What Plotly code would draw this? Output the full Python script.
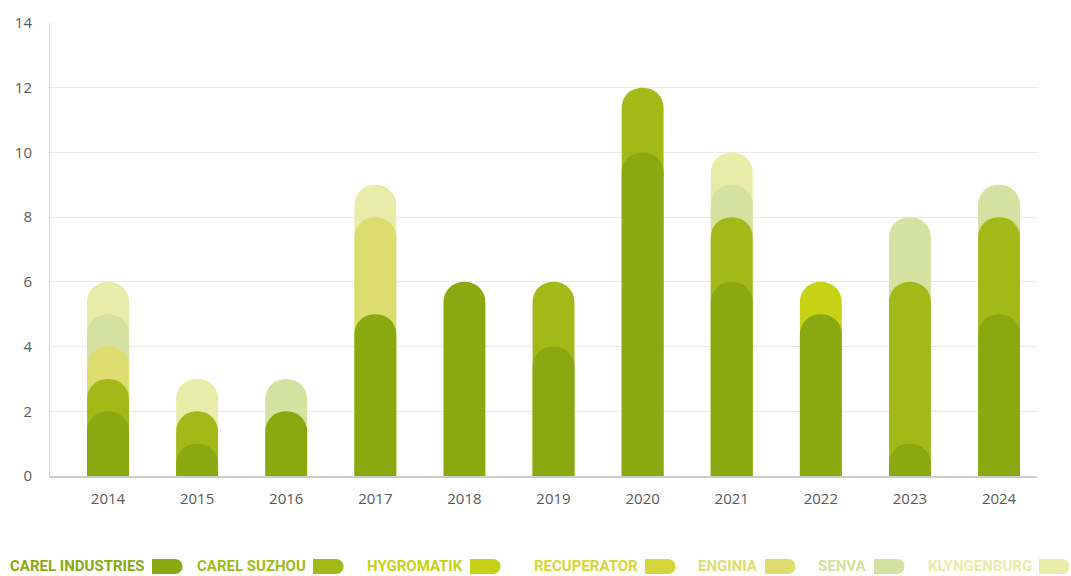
import plotly.graph_objects as go

years = [2014, 2015, 2016, 2017, 2018, 2019, 2020, 2021, 2022, 2023, 2024]
series_names = ["CAREL INDUSTRIES", "CAREL SUZHOU", "HYGROMATIK", "RECUPERATOR",
                "ENGINIA", "SENVA", "KLYNGENBURG"]
carel_industries = [2, 1, 2, 5, 6, 4, 10, 6, 5, 1, 5]
carel_suzhou     = [1, 1, 0, 0, 0, 2, 2, 2, 0, 5, 3]
hygromatik       = [0, 0, 0, 0, 0, 0, 0, 0, 1, 0, 0]
recuperator      = [0, 0, 0, 0, 0, 0, 0, 0, 0, 0, 0]
enginia          = [1, 0, 0, 3, 0, 0, 0, 0, 0, 0, 0]
senva            = [1, 0, 1, 0, 0, 0, 0, 1, 0, 2, 1]
klyngenburg      = [1, 1, 0, 1, 0, 0, 0, 1, 0, 0, 0]
colors = ["#8aa80f", "#a2b918", "#c6d213", "#d4d63c", "#dcdd6e", "#d5e1a0", "#e9eba8"]
y_ticks = [0, 2, 4, 6, 8, 10, 12, 14]

values = [carel_industries, carel_suzhou, hygromatik, recuperator, enginia, senva, klyngenburg]

# cumulative tops
cum = []
running = [0] * len(years)
for v in values:
    running = [r + x for r, x in zip(running, v)]
    cum.append([r if x > 0 else None for r, x in zip(running, v)])

W, H = 1071, 576
ML, MR, MT, MB = 50, 34, 20, 100
PW, PH = W - ML - MR, H - MT - MB
BW = 0.47
XR = [2013.349, 2024.426]

fig = go.Figure()
n = len(series_names)
layout_axes = {}
for j, i in enumerate(reversed(range(n))):
    axid = "x" if j == 0 else f"x{j + 1}"
    fig.add_trace(go.Bar(
        x=years, y=cum[i], name=series_names[i],
        marker=dict(color=colors[i], line=dict(width=0), cornerradius="50%"),
        width=BW, showlegend=False, xaxis=axid, yaxis="y",
    ))
    if j > 0:
        layout_axes[f"xaxis{j + 1}"] = dict(
            overlaying="x", range=XR, visible=False, fixedrange=True,
            showgrid=False, zeroline=False,
        )

def px_x(p):
    return (p - ML) / PW

def px_y(p):
    return (H - MB - p) / PH

# custom legend: text then D-shaped swatch
text_right = [147, 308, 465, 640, 760, 869, 1034]
legend_y = 567
shapes = []
annotations = []
k = 0.5523
r = 7.5
L = 23
path = (f"M0,{-r} L{L},{-r} C{L + k*r},{-r} {L + r},{-k*r} {L + r},0 "
        f"C{L + r},{k*r} {L + k*r},{r} {L},{r} L0,{r} Z")
for i, name in enumerate(series_names):
    annotations.append(dict(
        text=f"<b>{name}</b>", x=px_x(text_right[i]), y=px_y(legend_y),
        xref="paper", yref="paper", xanchor="right", yanchor="middle",
        showarrow=False,
        font=dict(family="Roboto, sans-serif", size=15, color=colors[i]),
    ))
    shapes.append(dict(
        type="path", xref="paper", yref="paper",
        xsizemode="pixel", ysizemode="pixel",
        xanchor=px_x(text_right[i] + 5), yanchor=px_y(legend_y),
        path=path, fillcolor=colors[i], line=dict(width=0),
    ))

fig.update_layout(
    width=W, height=H,
    margin=dict(l=ML, r=MR, t=MT, b=MB),
    paper_bgcolor="white", plot_bgcolor="white",
    barmode="overlay",
    font=dict(family="Open Sans, sans-serif", size=15, color="#5a5a5a"),
    xaxis=dict(
        range=XR, tickvals=years, ticktext=[str(y) for y in years],
        showgrid=False, zeroline=False, showline=True, linecolor="#cccccc", linewidth=1.5,
        ticks="", ticklabelstandoff=8, fixedrange=True,
    ),
    yaxis=dict(
        range=[0, 14], tickvals=y_ticks, showgrid=True, gridcolor="#e9e9e9", gridwidth=1,
        zeroline=False, showline=True, linecolor="#d6d6d6", linewidth=1,
        ticks="", ticklabelstandoff=14, fixedrange=True,
    ),
    shapes=shapes, annotations=annotations,
    **layout_axes,
)

fig.write_html("out.html")
